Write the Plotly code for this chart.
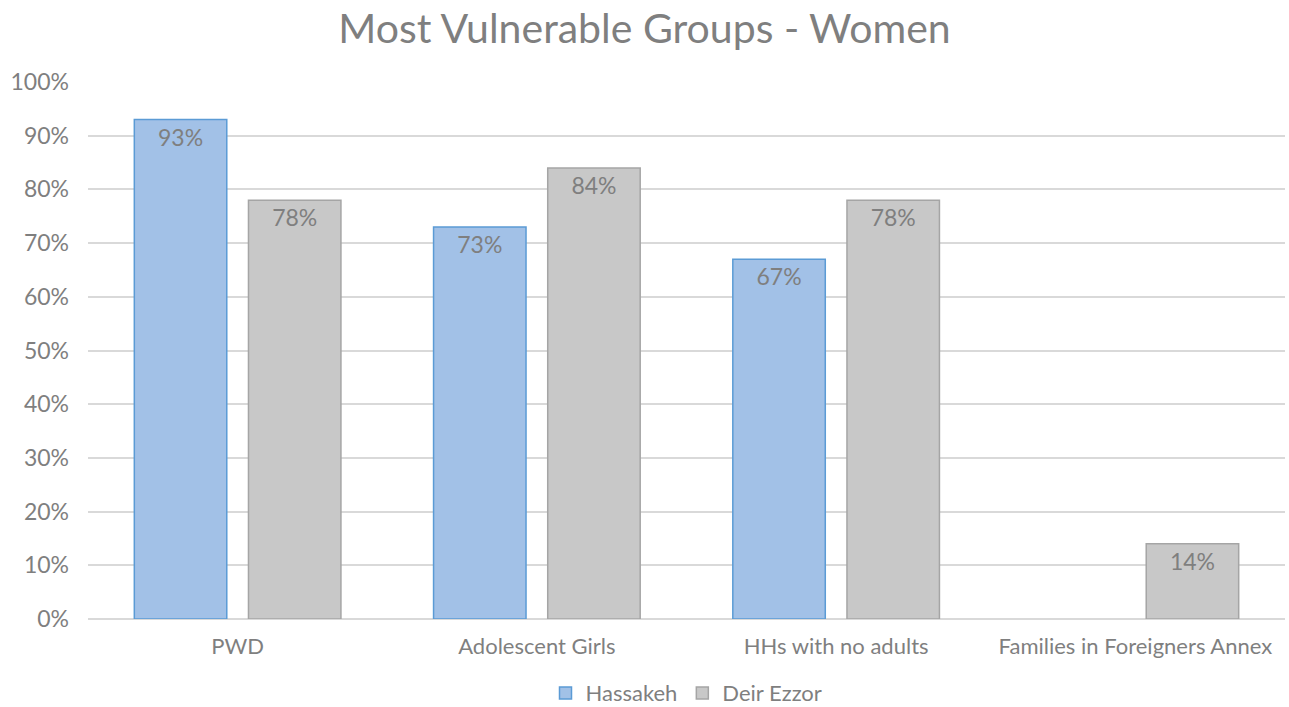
import plotly.graph_objects as go

categories = ["PWD", "Adolescent Girls", "HHs with no adults", "Families in Foreigners Annex"]
hassakeh = [0.93, 0.73, 0.67, None]
deir_ezzor = [0.78, 0.84, 0.78, 0.14]
tick_vals = [0, 0.1, 0.2, 0.3, 0.4, 0.5, 0.6, 0.7, 0.8, 0.9, 1.0]
tick_text = ["0%", "10%", "20%", "30%", "40%", "50%", "60%", "70%", "80%", "90%", "100%"]

FONT = "Lato, 'DejaVu Sans', sans-serif"
GRAY = "#7f7f7f"

def labels(vals):
    return ["" if v is None else f"{round(v*100)}%" for v in vals]

fig = go.Figure()
fig.add_trace(go.Bar(
    name="Hassakeh", x=categories, y=hassakeh,
    text=labels(hassakeh), textposition="inside", insidetextanchor="end",
    textfont=dict(size=23, color=GRAY, family=FONT),
    marker=dict(color="#a2c1e7", line=dict(color="#5b9bd5", width=1.5)),
))
fig.add_trace(go.Bar(
    name="Deir Ezzor", x=categories, y=deir_ezzor,
    text=labels(deir_ezzor), textposition="inside", insidetextanchor="end",
    textfont=dict(size=23, color=GRAY, family=FONT),
    marker=dict(color="#c8c8c8", line=dict(color="#a5a5a5", width=1.5)),
))

fig.update_layout(
    width=1289, height=707,
    barmode="group", bargap=0.237, bargroupgap=0.19,
    paper_bgcolor="white", plot_bgcolor="white",
    margin=dict(l=88, r=4, t=82, b=88, autoexpand=False),
    font=dict(family=FONT, color=GRAY),
    title=dict(text="Most Vulnerable Groups - Women", x=0.5, xanchor="center",
               y=0.96, yanchor="middle",
               font=dict(size=41, color=GRAY, family=FONT)),
    legend=dict(orientation="h", x=0.5, xanchor="center", y=-0.138, yanchor="middle",
                font=dict(size=22, color=GRAY, family=FONT), itemwidth=30),
)
fig.update_yaxes(range=[0, 1.0], tickvals=tick_vals, ticktext=tick_text,
                 showgrid=True, gridcolor="#d9d9d9", gridwidth=1.5,
                 zeroline=True, zerolinecolor="#d9d9d9", zerolinewidth=1.5,
                 tickfont=dict(size=23, color=GRAY, family=FONT),
                 ticks="", ticklabelstandoff=18, showline=False, automargin=False)
fig.update_xaxes(tickfont=dict(size=22, color=GRAY, family=FONT), showline=False,
                 ticks="", ticklabelstandoff=12, automargin=False)

fig.write_html("out.html", config={"displayModeBar": False})

with open("out.html", "r", encoding="utf-8") as f:
    html = f.read()
html = html.replace("<head>", "<head><style>html,body{margin:0;padding:0;}</style>", 1)
with open("out.html", "w", encoding="utf-8") as f:
    f.write(html)
